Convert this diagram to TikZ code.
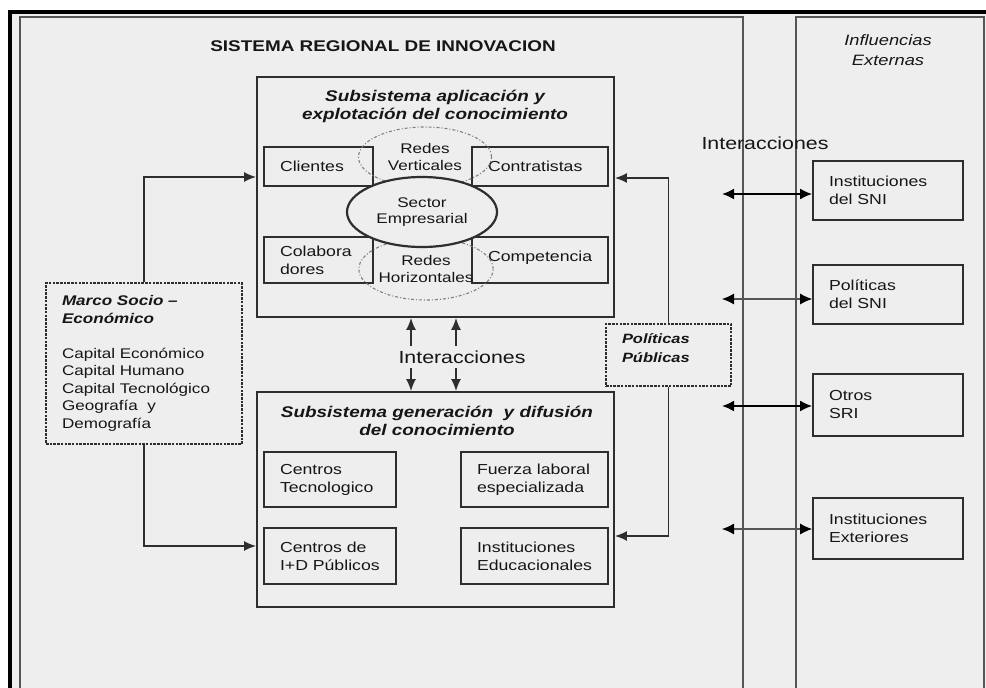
\documentclass[tikz,border=0pt]{standalone}
\usepackage{fontspec}
\setmainfont{Liberation Sans}[FakeStretch=1.22]
\usetikzlibrary{shapes.geometric,arrows.meta}

\definecolor{paper}{HTML}{EEEEEE}
\definecolor{ink}{HTML}{2E2E2E}
\definecolor{txt}{HTML}{161616}
\definecolor{frameline}{HTML}{555555}

\tikzset{
  panel/.style={draw=frameline, line width=2pt, fill=paper, inner sep=0pt},
  subsys/.style={draw=ink, line width=1.8pt, fill=paper, inner sep=0pt},
  cell/.style={draw=ink, line width=1.7pt, fill=paper, inner xsep=16pt, inner ysep=0pt,
    align=left, text=txt, font=\fontsize{14.5}{18}\selectfont},
  dotbox/.style={draw=ink, line width=1.6pt, dash pattern=on 2.5pt off 1.2pt, fill=paper,
    inner xsep=16pt, inner ysep=0pt, align=left, text=txt},
  redes/.style={ellipse, draw=gray, line width=1.1pt, dash pattern=on 3pt off 2pt on 1pt off 2pt,
    inner sep=0pt, align=center, text=txt, font=\fontsize{14}{17}\selectfont},
  subtitle/.style={align=center, text=txt, font=\bfseries\itshape\fontsize{15.5}{18}\selectfont},
  interlabel/.style={text=txt, font=\fontsize{17.5}{20}\selectfont, inner sep=1pt},
  conn/.style={draw=ink, line width=1.7pt, -{Latex[length=12pt,width=10pt]}},
  twoway/.style={draw=black, line width=2pt, {Latex[length=12pt,width=11pt]}-{Latex[length=12pt,width=11pt]}},
  twowaythin/.style={draw=frameline, line width=1.1pt, {Latex[length=12pt,width=11pt,fill=black,color=black]}-{Latex[length=12pt,width=11pt,fill=black,color=black]}},
}

\begin{document}
\begin{tikzpicture}[x=1pt,y=-1pt]
\clip (0,0) rectangle (986,688);
\fill[white] (0,0) rectangle (986,688);
\fill[paper] (10,12) rectangle (986,688);
\draw[black, line width=4pt] (10,692) -- (10,12) -- (990,12);

% outer panels
\node[panel, minimum width=723, minimum height=720, anchor=north west] (sri) at (19,16) {};
\node[panel, minimum width=188, minimum height=720, anchor=north west] (infl) at (795,16) {};
\node[text=txt, font=\bfseries\fontsize{15.5}{18}\selectfont] (sriT) at (383,46) {SISTEMA REGIONAL DE INNOVACION};
\node[align=center, text=txt, font=\itshape\fontsize{15}{20}\selectfont] (inflT) at (888,50) {Influencias\\Externas};

% application subsystem
\node[subsys, minimum width=357, minimum height=240] (top) at (435.5,197) {};
\node[subtitle] (topT) at (435,106) {Subsistema aplicación y\\explotación del conocimiento};
\node[cell, minimum width=109, minimum height=39, text width=77] (cli) at (318.5,166.5) {Clientes};
\node[cell, minimum width=136, minimum height=39, text width=104] (con) at (540,166.5) {Contratistas};
\node[cell, minimum width=109, minimum height=46, text width=77] (col) at (318.5,260) {Colabora\\dores};
\node[cell, minimum width=136, minimum height=46, text width=104] (cmp) at (540,260) {Competencia\\[-10pt]\mbox{}};
\node[redes, minimum width=133, minimum height=60] (rv) at (425,157) {Redes\\Verticales};
\node[redes, minimum width=133, minimum height=62] (rh) at (426,269) {Redes\\Horizontales};
\node[ellipse, draw=ink, line width=2.2pt, fill=paper, minimum width=150, minimum height=70,
  inner sep=0pt, align=center, text=txt, font=\fontsize{14}{16}\selectfont] (sector) at (422,212) {Sector\\Empresarial};

% generation subsystem
\node[subsys, minimum width=357, minimum height=215] (bot) at (435.5,499.5) {};
\node[subtitle] (botT) at (437,421) {Subsistema generación\ \ y difusión\\del conocimiento};
\node[cell, minimum width=132, minimum height=55, text width=100] (ctec) at (330,479.5) {Centros\\Tecnologico};
\node[cell, minimum width=147, minimum height=55, text width=115] (fue) at (534.5,479.5) {Fuerza laboral\\especializada};
\node[cell, minimum width=132, minimum height=56, text width=100] (cid) at (330,556) {Centros de\\I+D Públicos};
\node[cell, minimum width=147, minimum height=56, text width=115] (edu) at (534.5,556) {Instituciones\\Educacionales};

% socio-economic frame
\node[dotbox, minimum width=196, minimum height=161, text width=164, font=\fontsize{14}{17.5}\selectfont] (marco) at (144,363.5)
  {\textbf{\textit{Marco Socio –}}\\\textbf{\textit{Económico}}\\[17.5pt]Capital Económico\\Capital Humano\\Capital Tecnológico\\Geografía\ \ y\\Demografía};

% public policies
\node[dotbox, minimum width=125, minimum height=62, text width=93, font=\bfseries\itshape\fontsize{13.5}{19}\selectfont] (pp) at (668.5,355) {Políticas\\Públicas\\[-5pt]\mbox{}};

% external influences
\node[cell, minimum width=150, minimum height=59, text width=118] (isni) at (888,190.5) {Instituciones\\del SNI};
\node[cell, minimum width=150, minimum height=59, text width=118] (psni) at (888,294.5) {Políticas\\del SNI};
\node[cell, minimum width=150, minimum height=62, text width=118] (osri) at (888,405) {Otros\\SRI};
\node[cell, minimum width=150, minimum height=61, text width=118] (iext) at (888,528.5) {Instituciones\\Exteriores};

% interaction labels
\node[interlabel] (intTop) at (765,143) {Interacciones};
\node[interlabel] (intMid) at (462,357) {Interacciones};

% links between the subsystems
\coordinate (a1u) at (411,346);
\coordinate (a1d) at (411,368);
\coordinate (a2u) at (456,346);
\coordinate (a2d) at (456,368);
\draw[conn] (a1u) -- (a1u |- top.south);
\draw[conn] (a1d) -- (a1d |- bot.north);
\draw[conn] (a2u) -- (a2u |- top.south);
\draw[conn] (a2d) -- (a2d |- bot.north);

% framework and policy feeds
\draw[conn] (marco.north) |- ([yshift=20pt]top.west);
\draw[conn] (marco.south) |- ([yshift=-46.5pt]bot.west);
\draw[conn] (pp.north) |- ([yshift=19pt]top.east);
\draw[conn] (pp.south) |- ([yshift=-36.5pt]bot.east);

% exchanges with the outside
\coordinate (r1) at (722,194);
\coordinate (r2) at (722,299);
\coordinate (r3) at (722,406);
\coordinate (r4) at (722,529);
\draw[twoway] (r1) -- (r1 -| isni.west);
\draw[twowaythin] (r2) -- (r2 -| psni.west);
\draw[twoway] (r3) -- (r3 -| osri.west);
\draw[twowaythin] (r4) -- (r4 -| iext.west);
\end{tikzpicture}
\end{document}
